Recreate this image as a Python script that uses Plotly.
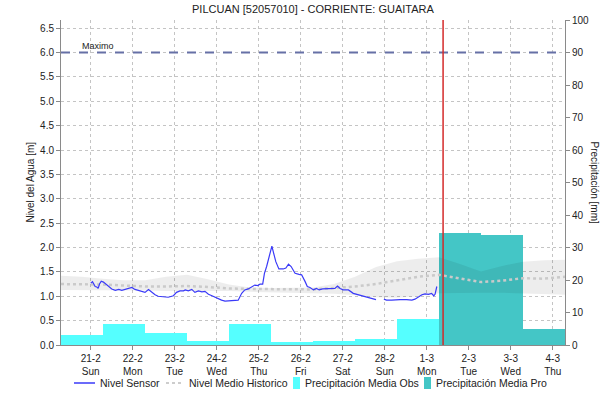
import pandas as pd
import plotly.graph_objects as go

TITULO = "PILCUAN [52057010] - CORRIENTE: GUAITARA"
MAXIMO = 6.0
CORTE = "2021-03-01 09:20"          # instante actual (inicio del pronóstico)
RANGO_X = ["2021-02-20 07:00", "2021-03-04 07:00"]

# Nivel del sensor [m]; None marca un hueco en el registro
sensor_time = [
    "2021-02-21 00:00", "2021-02-21 01:00", "2021-02-21 01:45", "2021-02-21 02:30",
    "2021-02-21 03:30", "2021-02-21 04:15", "2021-02-21 05:00", "2021-02-21 06:00",
    "2021-02-21 07:15", "2021-02-21 08:30", "2021-02-21 10:00", "2021-02-21 12:00",
    "2021-02-21 14:00", "2021-02-21 16:00", "2021-02-21 17:45", "2021-02-21 19:30",
    "2021-02-21 21:30", "2021-02-21 23:30",
    "2021-02-22 01:15", "2021-02-22 03:15", "2021-02-22 05:00", "2021-02-22 07:00",
    "2021-02-22 09:00", "2021-02-22 10:45", "2021-02-22 12:45", "2021-02-22 14:30",
    "2021-02-22 17:30", "2021-02-22 20:15", "2021-02-22 23:15",
    "2021-02-23 01:00", "2021-02-23 03:00", "2021-02-23 05:00", "2021-02-23 06:00",
    "2021-02-23 07:45", "2021-02-23 09:45", "2021-02-23 11:30", "2021-02-23 13:30",
    "2021-02-23 15:30", "2021-02-23 17:15", "2021-02-23 19:15", "2021-02-23 21:15",
    "2021-02-23 23:00",
    "2021-02-24 01:00", "2021-02-24 02:45", "2021-02-24 04:45", "2021-02-24 07:30",
    "2021-02-24 10:30", "2021-02-24 12:15", "2021-02-24 14:15", "2021-02-24 16:00",
    "2021-02-24 18:00", "2021-02-24 20:00", "2021-02-24 21:45", "2021-02-24 23:30",
    "2021-02-25 00:45", "2021-02-25 02:15", "2021-02-25 03:15", "2021-02-25 04:30",
    "2021-02-25 06:00", "2021-02-25 07:30", "2021-02-25 08:15", "2021-02-25 09:45",
    "2021-02-25 11:30", "2021-02-25 14:00", "2021-02-25 15:30", "2021-02-25 17:00",
    "2021-02-25 18:30", "2021-02-25 20:45", "2021-02-25 23:00",
    "2021-02-26 00:30", "2021-02-26 02:30", "2021-02-26 03:45", "2021-02-26 05:15",
    "2021-02-26 07:15", "2021-02-26 09:00", "2021-02-26 10:30", "2021-02-26 12:30",
    "2021-02-26 14:45", "2021-02-26 17:45", "2021-02-26 19:30", "2021-02-26 21:00",
    "2021-02-26 22:30",
    "2021-02-27 00:15", "2021-02-27 03:15", "2021-02-27 06:00", "2021-02-27 09:00",
    "2021-02-27 11:45", "2021-02-27 14:30", "2021-02-27 17:30", "2021-02-27 19:00",
    "2021-02-27 21:00", "2021-02-27 23:30",
    "2021-02-28 01:00", "2021-02-28 04:00", "2021-02-28 06:00", "2021-02-28 08:45",
    "2021-02-28 12:30", "2021-02-28 15:30", "2021-02-28 17:15", "2021-02-28 19:15",
    "2021-02-28 21:15", "2021-02-28 23:00",
    "2021-03-01 01:00", "2021-03-01 02:45", "2021-03-01 04:00", "2021-03-01 04:45",
    "2021-03-01 05:15", "2021-03-01 05:45",
]
sensor_level = [
    1.27, 1.30, 1.25, 1.20, 1.19, 1.16, 1.25, 1.31, 1.29, 1.25, 1.20, 1.15,
    1.12, 1.14, 1.12, 1.14, 1.16, 1.18,
    1.14, 1.12, 1.11, 1.08, 1.14, 1.08, 1.03, 1.00, 0.99, 0.98, 1.01,
    1.08, 1.11, 1.11, 1.13, 1.11, 1.14, 1.08, 1.11, 1.09, 1.10, 1.04, 1.01, 0.98,
    0.95, 0.92, 0.90, 0.91, 0.91, 0.92, 1.06, 1.13, 1.15, 1.19, 1.23, 1.22,
    1.25, 1.25, 1.47, 1.61, 1.81, 2.03, 1.92, 1.71, 1.56, 1.56, 1.58, 1.66,
    1.61, 1.47, 1.45,
    1.44, 1.30, 1.20, 1.18, 1.13, 1.16, 1.13, 1.15, 1.15, 1.16, 1.16, 1.21, 1.16,
    1.13, 1.13, 1.06, 1.03, 0.99, 0.96, 0.94, 0.93, None, 0.94,
    0.92, 0.92, 0.93, 0.93, 0.93, 0.92, 0.94, 0.99, 1.03, 1.05,
    1.04, 1.06, 1.01, 1.04, 1.16, 1.20,
]

# Nivel medio histórico y su banda (mínimo–máximo), cada 12 h desde 2021-02-20 07:00
hist_time = pd.date_range("2021-02-20 07:00", "2021-03-04 07:00", freq="12h")
hist_mean = [1.25, 1.25, 1.24, 1.22, 1.20, 1.20, 1.21, 1.19, 1.16, 1.15, 1.15, 1.14,
             1.14, 1.17, 1.20, 1.25, 1.33, 1.40, 1.44, 1.36, 1.29, 1.32, 1.37, 1.36, 1.40]
hist_max = [1.42, 1.40, 1.36, 1.33, 1.33, 1.40, 1.44, 1.35, 1.24, 1.18, 1.17, 1.17,
            1.18, 1.25, 1.40, 1.60, 1.72, 1.77, 1.80, 1.66, 1.51, 1.62, 1.71, 1.74, 1.75]
hist_min = [1.13, 1.13, 1.12, 1.12, 1.12, 1.11, 1.11, 1.11, 1.11, 1.09, 1.08, 1.08,
            1.07, 1.05, 1.02, 0.98, 0.97, 1.00, 1.06, 1.07, 1.07, 1.07, 1.06, 1.04, 1.03]

# Precipitación diaria (07:00 a 07:00) [mm]
obs_start = ["2021-02-20 07:00", "2021-02-21 07:00", "2021-02-22 07:00",
             "2021-02-23 07:00", "2021-02-24 07:00", "2021-02-25 07:00",
             "2021-02-26 07:00", "2021-02-27 07:00", "2021-02-28 07:00"]
obs_mm = [3.1, 6.5, 3.8, 1.2, 6.5, 0.9, 1.1, 1.9, 7.9]
pro_start = ["2021-03-01 07:00", "2021-03-02 07:00", "2021-03-03 07:00"]
pro_mm = [34.4, 33.8, 5.0]

# Etiquetas del eje de tiempo
tick_dates = ["2021-02-21", "2021-02-22", "2021-02-23", "2021-02-24", "2021-02-25",
              "2021-02-26", "2021-02-27", "2021-02-28", "2021-03-01", "2021-03-02",
              "2021-03-03", "2021-03-04"]
tick_days = ["21-2", "22-2", "23-2", "24-2", "25-2", "26-2", "27-2", "28-2",
             "1-3", "2-3", "3-3", "4-3"]
tick_wd = ["Sun", "Mon", "Tue", "Wed", "Thu", "Fri", "Sat", "Sun",
           "Mon", "Tue", "Wed", "Thu"]

FONT = "Liberation Sans, Arial, sans-serif"
TXT = "#222222"
GRID = "#c4c4c4"
AXIS = "#8a8a8a"
C_SENSOR = "#3a3af8"
C_MEDIO = "#cacaca"
C_OBS = "#55ffff"
C_PRO = "#44c6c6"
DAY_MS = 24 * 3600 * 1000

# Geometría del área de trazado (px)
W, H = 603, 404
ML, MR, MT, MB = 61, 38, 20, 59
PW, PH = W - ML - MR, H - MT - MB


def centros(inicios):
    return pd.to_datetime(inicios) + pd.Timedelta(hours=12)


def px_x(px):
    return (px - ML) / PW


def px_y(py):
    return (H - MB - py) / PH


fig = go.Figure()

# Barras de precipitación en el eje base (derecho), debajo de las curvas de nivel
fig.add_trace(go.Bar(
    x=centros(obs_start), y=obs_mm, width=DAY_MS, yaxis="y",
    marker=dict(color=C_OBS, line=dict(width=0)),
    name="Precipitación Media Obs",
))
fig.add_trace(go.Bar(
    x=centros(pro_start), y=pro_mm, width=DAY_MS, yaxis="y",
    marker=dict(color=C_PRO, line=dict(width=0)),
    name="Precipitación Media Pro",
))

# Banda histórica
fig.add_trace(go.Scatter(
    x=hist_time, y=hist_min, yaxis="y2", mode="lines",
    line=dict(width=0, color="rgba(0,0,0,0)"), hoverinfo="skip",
))
fig.add_trace(go.Scatter(
    x=hist_time, y=hist_max, yaxis="y2", mode="lines", fill="tonexty",
    fillcolor="rgba(0,0,0,0.07)", line=dict(width=0, color="rgba(0,0,0,0)"),
    hoverinfo="skip",
))
fig.add_trace(go.Scatter(
    x=hist_time, y=hist_mean, yaxis="y2", mode="lines",
    line=dict(color=C_MEDIO, width=2.5, dash="dot"),
    name="Nivel Medio Historico",
))
fig.add_trace(go.Scatter(
    x=pd.to_datetime(sensor_time), y=sensor_level, yaxis="y2", mode="lines",
    line=dict(color=C_SENSOR, width=1.2), connectgaps=False,
    name="Nivel Sensor",
))

fig.update_layout(
    width=W, height=H,
    margin=dict(l=ML, r=MR, t=MT, b=MB, autoexpand=False),
    paper_bgcolor="white", plot_bgcolor="white",
    font=dict(family=FONT, size=10, color=TXT),
    barmode="overlay", bargap=0,
    showlegend=False,
    xaxis=dict(
        type="date", range=RANGO_X,
        tickvals=tick_dates,
        ticktext=[f"{d}<br>{w}" for d, w in zip(tick_days, tick_wd)],
        ticks="outside", ticklen=4, tickcolor=AXIS,
        showgrid=True, gridcolor=GRID, griddash="dot", gridwidth=1,
        showline=True, linecolor=AXIS, linewidth=1,
        zeroline=False, tickfont=dict(size=10, color=TXT),
    ),
    yaxis=dict(
        side="right", range=[0, 100], tickvals=list(range(0, 101, 10)),
        ticks="outside", ticklen=4, tickcolor=AXIS,
        showgrid=False, zeroline=False,
        showline=True, linecolor=AXIS, linewidth=1,
        tickfont=dict(size=10, color=TXT),
    ),
    yaxis2=dict(
        overlaying="y", side="left", range=[0, 100 * MAXIMO / 90],
        tickvals=[i * 0.5 for i in range(14)], tickformat=".1f",
        ticks="outside", ticklen=4, tickcolor=AXIS,
        showgrid=True, gridcolor=GRID, griddash="dot", gridwidth=1,
        zeroline=False, showline=True, linecolor=AXIS, linewidth=1,
        tickfont=dict(size=10, color=TXT),
    ),
)

# Nivel máximo y línea del instante actual
fig.add_shape(type="line", xref="paper", yref="y2", x0=0, x1=1, y0=MAXIMO, y1=MAXIMO,
              line=dict(color="#6670a6", width=2, dash="dash"), layer="above")
fig.add_shape(type="line", xref="x", yref="paper", x0=CORTE, x1=CORTE, y0=0, y1=1,
              line=dict(color="#d42a2a", width=1.5), layer="above")

fig.add_annotation(text="Maximo", xref="paper", yref="y2", x=px_x(80), y=MAXIMO,
                   xanchor="left", yanchor="bottom", showarrow=False,
                   font=dict(size=9, color=TXT))
fig.add_annotation(text=TITULO, xref="paper", yref="paper", x=0.5, y=px_y(9),
                   xanchor="center", yanchor="middle", showarrow=False,
                   font=dict(size=11, color=TXT))
fig.add_annotation(text="Nivel del Agua [m]", xref="paper", yref="paper",
                   x=px_x(30), y=0.5, textangle=-90, xanchor="center", yanchor="middle",
                   showarrow=False, font=dict(size=10, color=TXT))
fig.add_annotation(text="Precipitación [mm]", xref="paper", yref="paper",
                   x=px_x(594), y=0.5, textangle=90, xanchor="center", yanchor="middle",
                   showarrow=False, font=dict(size=10, color=TXT))

# Leyenda compacta en una fila bajo el eje de tiempo
LEG_Y = 383
LEG_FONT = 10.5
leyenda = [
    ("line", C_SENSOR, dict(width=1.5), 74, 95, "Nivel Sensor", 98),
    ("line", "#bdbdbd", dict(width=1.5, dash="dot"), 166, 183, "Nivel Medio Historico", 187),
    ("box", C_OBS, None, 293, 300, "Precipitación Media Obs", 303),
    ("box", C_PRO, None, 424, 431, "Precipitación Media Pro", 434),
]
for kind, color, estilo, xa, xb, texto, xt in leyenda:
    if kind == "line":
        fig.add_shape(type="line", xref="paper", yref="paper",
                      x0=px_x(xa), x1=px_x(xb), y0=px_y(LEG_Y), y1=px_y(LEG_Y),
                      line=dict(color=color, **estilo))
    else:
        fig.add_shape(type="rect", xref="paper", yref="paper",
                      x0=px_x(xa), x1=px_x(xb), y0=px_y(LEG_Y + 6), y1=px_y(LEG_Y - 6),
                      line=dict(width=0), fillcolor=color)
    fig.add_annotation(text=texto, xref="paper", yref="paper", x=px_x(xt), y=px_y(LEG_Y),
                       xanchor="left", yanchor="middle", showarrow=False,
                       font=dict(size=LEG_FONT, color=TXT))

fig.write_html("out.html")
